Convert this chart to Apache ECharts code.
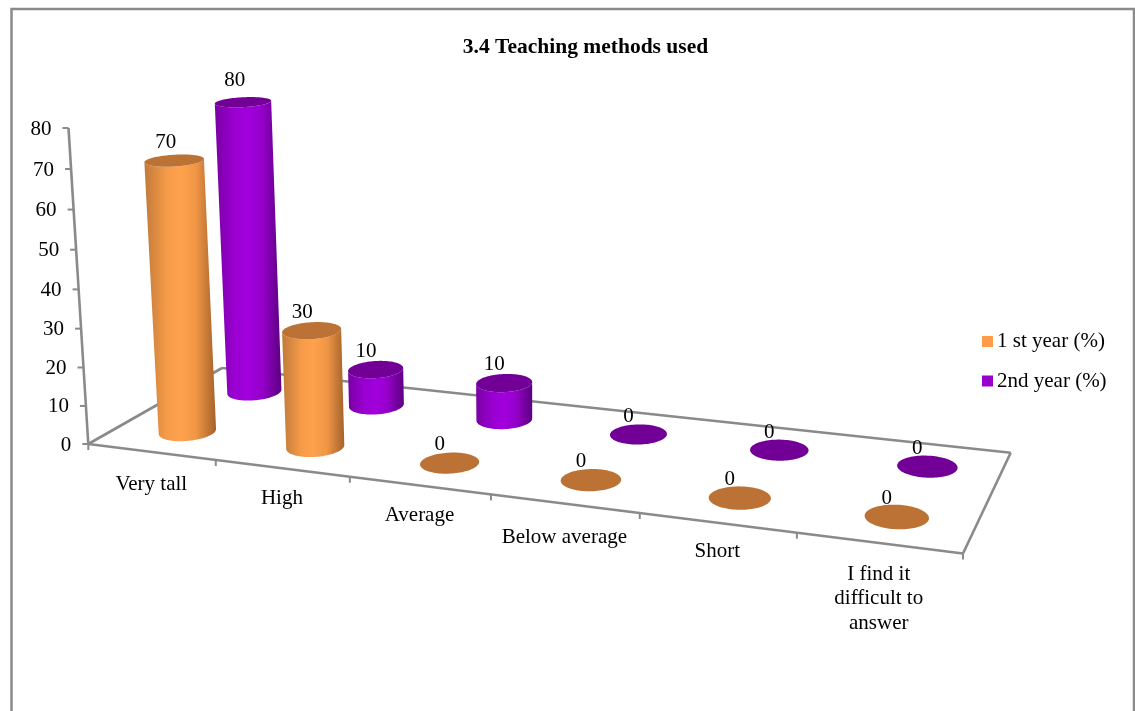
<!DOCTYPE html>
<html>
<head>
<meta charset="utf-8">
<style>html,body{margin:0;padding:0;background:#fff}#c{width:1135px;height:711px}</style>
<script src="https://cdn.jsdelivr.net/npm/echarts@6/dist/echarts.min.js"></script>
</head>
<body>
<div id="c"></div>
<script>
const titleText = '3.4 Teaching methods used';
const categories = ['Very tall', 'High', 'Average', 'Below average', 'Short', 'I find it\ndifficult to\nanswer'];
const firstYear = [70, 30, 0, 0, 0, 0];
const secondYear = [80, 10, 10, 0, 0, 0];
const valueTicks = [0, 10, 20, 30, 40, 50, 60, 70, 80];
const seriesNames = ['1 st year (%)', '2nd year (%)'];

// Oblique view of the chart box, in pixels
const O = [88.3, 444], U = [963, 553.5], UV = [1010.7, 452.7], V = [222, 368], T = [68.5, 128];
const riseBend = -0.042;
const FONT = '"Liberation Serif","Times New Roman",serif';
const LINE = '#8a8a8a';
const ORANGE_ROW = { v: 0.245, du: 0.016, ru: 0.195, rv: 0.112, rise: 1 };
const PURPLE_ROW = { v: 0.76, du: 0.025, ru: 0.195, rv: 0.115, rise: 0.983 };
const catLabelDy = [32, 30, 30, 34, 28, 31];

const dx1 = U[0] - UV[0], dy1 = U[1] - UV[1], dx2 = V[0] - UV[0], dy2 = V[1] - UV[1];
const sx = O[0] - U[0] + UV[0] - V[0], sy = O[1] - U[1] + UV[1] - V[1];
const det = dx1 * dy2 - dx2 * dy1;
const g = (sx * dy2 - dx2 * sy) / det, h = (dx1 * sy - sx * dy1) / det;
const ax = U[0] - O[0] + g * U[0], bx = V[0] - O[0] + h * V[0];
const ay = U[1] - O[1] + g * U[1], by = V[1] - O[1] + h * V[1];
const kx = T[0] * (1 + riseBend) - O[0], ky = T[1] * (1 + riseBend) - O[1];
function project(u, v, w) {
  const d = g * u + h * v + riseBend * w + 1;
  return [(ax * u + bx * v + kx * w + O[0]) / d, (ay * u + by * v + ky * w + O[1]) / d];
}
function norm(params, api, cat, val) {
  const p = api.coord([cat, val]), cs = params.coordSys;
  return [(p[0] - cs.x) / cs.width, 1 - (p[1] - cs.y) / cs.height, api.size([1, 0])[0] / cs.width];
}
function ring(c, row, band, w) {
  const pts = [];
  for (let i = 0; i < 96; i++) {
    const t = i / 96 * Math.PI * 2;
    pts.push(project(c + row.ru * band * Math.cos(t), row.v + row.rv * Math.sin(t), w));
  }
  return pts;
}
function lowerArc(pts) {
  let l = 0, r = 0;
  pts.forEach((p, i) => { if (p[0] < pts[l][0]) l = i; if (p[0] > pts[r][0]) r = i; });
  const walk = (from, to, step) => { const o = []; for (let i = from; ; i = (i + step + pts.length) % pts.length) { o.push(pts[i]); if (i === to) break; } return o; };
  const a = walk(l, r, 1), b = walk(l, r, -1);
  const my = s => s.reduce((m, p) => m + p[1], 0) / s.length;
  return my(a) > my(b) ? a : b;
}
function cylinder(row, side, top) {
  return function (params, api) {
    const cat = api.value(0), val = api.value(1);
    const n0 = norm(params, api, cat, 0), n1 = norm(params, api, cat, val);
    const band = n0[2], cu = n0[0] + row.du * band;
    const bottom = ring(cu, row, band, n0[1]), upper = ring(cu, row, band, n1[1] * row.rise);
    const children = [];
    if (val > 0) {
      const lowB = lowerArc(bottom), lowT = lowerArc(upper).slice().reverse();
      children.push({
        type: 'polygon', shape: { points: lowB.concat(lowT) },
        style: { fill: { type: 'linear', x: 0, y: 0, x2: 1, y2: 0, colorStops: side } }
      });
    }
    children.push({ type: 'polygon', shape: { points: upper }, style: { fill: top } });
    const c = project(cu, row.v, n1[1] * row.rise);
    children.push({
      type: 'text',
      style: { text: String(val), x: c[0] - 10 + val * 0.02, y: c[1] - 18 - Math.max(0, val - 70) * 0.4, fill: '#000', fontFamily: FONT, fontSize: 21, align: 'center', verticalAlign: 'middle' }
    });
    return { type: 'group', children };
  };
}
function segment(a, b, w) {
  return { type: 'line', shape: { x1: a[0], y1: a[1], x2: b[0], y2: b[1] }, style: { stroke: LINE, lineWidth: w || 2.6 } };
}
function renderValueTick(params, api) {
  const n = norm(params, api, 0, api.value(1));
  const p = project(0, 0, n[1]);
  return {
    type: 'group', children: [
      segment(p, [p[0] - 6, p[1]], 2),
      { type: 'text', style: { text: String(api.value(1)), x: p[0] - 17, y: p[1] + 1, fill: '#000', fontFamily: FONT, fontSize: 21, align: 'right', verticalAlign: 'middle' } }
    ]
  };
}
function renderCategoryTick(params, api) {
  const i = api.value(0);
  const n = norm(params, api, i, 0);
  const mid = project(n[0], 0, 0);
  const left = project(n[0] - n[2] / 2, 0, 0);
  const kids = [segment(left, [left[0], left[1] + 6], 2),
    { type: 'text', style: { text: categories[i], x: mid[0], y: mid[1] + catLabelDy[i] - 12, fill: '#000', fontFamily: FONT, fontSize: 21, lineHeight: 24.5, align: 'center', verticalAlign: 'top' } }];
  if (i === categories.length - 1) kids.push(segment(U, [U[0], U[1] + 6], 2));
  return { type: 'group', children: kids };
}
function renderFrame() {
  return {
    type: 'group', children: [
      segment(O, U), segment(U, UV), segment(UV, V), segment(V, O), segment(O, T)
    ]
  };
}
const ORANGE_SIDE = [{ offset: 0, color: '#C07A3A' }, { offset: 0.3, color: '#F59A48' }, { offset: 0.5, color: '#FFA24E' }, { offset: 0.72, color: '#F09646' }, { offset: 1, color: '#A4622A' }];
const PURPLE_SIDE = [{ offset: 0, color: '#7A00A4' }, { offset: 0.3, color: '#9A00D2' }, { offset: 0.5, color: '#A200DE' }, { offset: 0.72, color: '#9300C8' }, { offset: 1, color: '#5C007E' }];

const chart = echarts.init(document.getElementById('c'), null, { renderer: 'canvas' });
chart.setOption({
  animation: false,
  backgroundColor: '#fff',
  title: { text: titleText, left: 580.5, top: 31, textAlign: 'center', textStyle: { fontFamily: FONT, fontWeight: 'bold', fontSize: 21.5, color: '#000' } },
  legend: {
    data: [{ name: seriesNames[0], itemStyle: { color: '#FF9C4A' } }, { name: seriesNames[1], itemStyle: { color: '#9900CC' } }],
    orient: 'vertical', left: 977, top: 326, itemWidth: 11, itemHeight: 11, itemGap: 18.5, icon: 'rect',
    textStyle: { fontFamily: FONT, fontSize: 21, color: '#000', padding: [3, 0, 0, -1] }
  },
  grid: { left: 0, right: 0, top: 0, bottom: 0 },
  xAxis: { type: 'category', data: categories, show: false },
  yAxis: { type: 'value', min: 0, max: 80, interval: 10, show: false },
  graphic: [{ type: 'rect', z: 0, shape: { x: 11.5, y: 9, width: 1122.5, height: 760 }, style: { fill: 'none', stroke: LINE, lineWidth: 2.5 } }],
  series: [
    { name: seriesNames[0], type: 'custom', z: 6, coordinateSystem: 'cartesian2d', renderItem: cylinder(ORANGE_ROW, ORANGE_SIDE, '#BC7235'), encode: { x: 0, y: 1 }, data: firstYear.map((v, i) => [i, v]), itemStyle: { color: '#FF9C4A' } },
    { name: seriesNames[1], type: 'custom', z: 5, coordinateSystem: 'cartesian2d', renderItem: cylinder(PURPLE_ROW, PURPLE_SIDE, '#720097'), encode: { x: 0, y: 1 }, data: secondYear.map((v, i) => [i, v]), itemStyle: { color: '#9900CC' } },
    { name: 'frame', type: 'custom', z: 2, coordinateSystem: 'cartesian2d', renderItem: renderFrame, data: [[0, 0]], encode: { x: 0, y: 1 }, silent: true },
    { name: 'values', type: 'custom', z: 3, coordinateSystem: 'cartesian2d', renderItem: renderValueTick, data: valueTicks.map(v => [0, v]), encode: { x: 0, y: 1 }, silent: true },
    { name: 'cats', type: 'custom', z: 3, coordinateSystem: 'cartesian2d', renderItem: renderCategoryTick, data: categories.map((c, i) => [i, 0]), encode: { x: 0, y: 1 }, silent: true }
  ]
});
</script>
</body>
</html>
